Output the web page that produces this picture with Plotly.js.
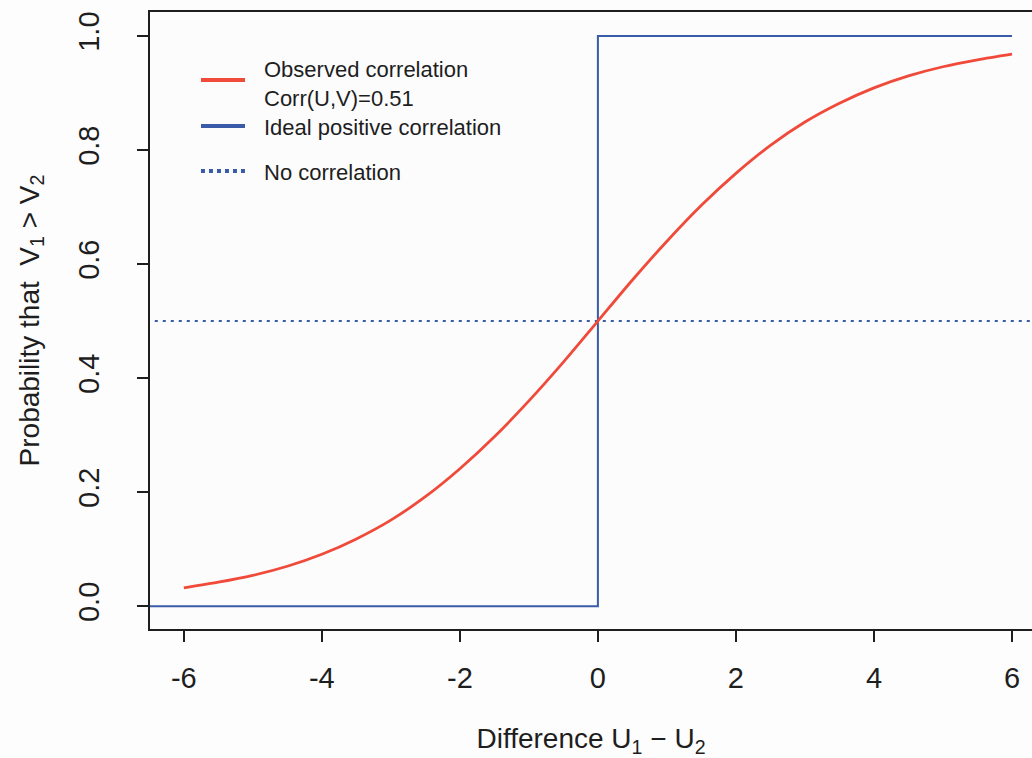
<!DOCTYPE html>
<html>
<head>
<meta charset="utf-8">
<script src="https://cdn.plot.ly/plotly-3.0.1.min.js"></script>
<style>
  html, body { margin: 0; padding: 0; background: #fdfdfd; }
  #chart { width: 1032px; height: 758px; }
</style>
</head>
<body>
<div id="chart"></div>
<script>
// ---- data ----
var diffX = [-6, -5.5, -5, -4.5, -4, -3.5, -3, -2.5, -2, -1.5, -1, -0.5, 0,
             0.5, 1, 1.5, 2, 2.5, 3, 3.5, 4, 4.5, 5, 5.5, 6];
var observedProb = [0.032, 0.042, 0.054, 0.070, 0.091, 0.118, 0.151, 0.192, 0.241, 0.297, 0.360, 0.428, 0.500,
                    0.572, 0.640, 0.703, 0.759, 0.808, 0.849, 0.882, 0.909, 0.930, 0.946, 0.958, 0.968];
var idealX = [-7, 0, 0, 6];
var idealProb = [0, 0, 1, 1];
var noCorrX = [-7, 7];
var noCorrProb = [0.5, 0.5];
var xTicks = [-6, -4, -2, 0, 2, 4, 6];
var yTicks = [0.0, 0.2, 0.4, 0.6, 0.8, 1.0];
var yTickText = ["0.0", "0.2", "0.4", "0.6", "0.8", "1.0"];
var legendLabels = ["Observed correlation<br>Corr(U,V)=0.51", "Ideal positive correlation", "No correlation"];

var RED = "#f04a3a";
var BLUE = "#3a5ca8";
var INK = "#1e1e1e";
var FONT = "Liberation Sans, Arial, Helvetica, sans-serif";

var traces = [
  { x: noCorrX, y: noCorrProb, mode: "lines", name: legendLabels[2],
    line: { color: BLUE, width: 2, dash: "3px,5px" }, showlegend: false, hoverinfo: "skip" },
  { x: idealX, y: idealProb, mode: "lines", name: legendLabels[1],
    line: { color: BLUE, width: 2 }, showlegend: false, hoverinfo: "skip" },
  { x: diffX, y: observedProb, mode: "lines", name: legendLabels[0],
    line: { color: RED, width: 2.8, shape: "spline", smoothing: 0.8 }, showlegend: false, hoverinfo: "skip" }
];

// manual legend (line samples + labels) in paper coordinates
var lgX0 = 0.0578, lgX1 = 0.1077, lgTextX = 0.1270;
var lgLineY = [0.8898, 0.8152, 0.7423];
var lgTextY = [0.8833, 0.8120, 0.7391];
var lgStyles = [
  { color: RED, width: 4, dash: "solid" },
  { color: BLUE, width: 4, dash: "solid" },
  { color: BLUE, width: 4, dash: "dot" }
];

var shapes = lgLineY.map(function (yy, i) {
  return { type: "line", xref: "paper", yref: "paper", x0: lgX0, x1: lgX1, y0: yy, y1: yy,
           line: lgStyles[i], layer: "above" };
});
var annotations = legendLabels.map(function (t, i) {
  return { xref: "paper", yref: "paper", x: lgTextX, y: lgTextY[i], text: t,
           showarrow: false, xanchor: "left", yanchor: "middle", align: "left",
           font: { family: FONT, size: 22, color: INK } };
});

var layout = {
  width: 1032, height: 758,
  margin: { l: 150, r: 0, t: 12, b: 129, pad: 0 },
  paper_bgcolor: "#fdfdfd",
  plot_bgcolor: "#fcfcfd",
  showlegend: false,
  font: { family: FONT, color: INK },
  xaxis: {
    range: [-6.49, 6.29], tickvals: xTicks, ticktext: xTicks.map(String),
    showgrid: false, zeroline: false,
    showline: true, linecolor: INK, linewidth: 2, mirror: true,
    ticks: "outside", ticklen: 11, tickwidth: 1.5, tickcolor: INK,
    tickfont: { size: 29, family: FONT, color: INK },
    ticklabelstandoff: 11,
    title: { text: "Difference U<sub>1</sub> \u2212 U<sub>2</sub>", standoff: 38,
             font: { size: 28, family: FONT, color: INK } },
    automargin: false
  },
  yaxis: {
    range: [-0.04, 1.042], tickvals: yTicks, ticktext: yTickText,
    showgrid: false, zeroline: false,
    showline: true, linecolor: INK, linewidth: 2,
    ticks: "outside", ticklen: 11, tickwidth: 1.5, tickcolor: INK,
    tickangle: -90,
    tickfont: { size: 29, family: FONT, color: INK },
    ticklabelstandoff: 26,
    title: { text: "Probability that\u00a0\u00a0V<sub>1</sub> &gt; V<sub>2</sub>", standoff: 26,
             font: { size: 28, family: FONT, color: INK } },
    automargin: false
  },
  shapes: shapes,
  annotations: annotations
};

Plotly.newPlot("chart", traces, layout, { displayModeBar: false, staticPlot: true });
</script>
</body>
</html>
